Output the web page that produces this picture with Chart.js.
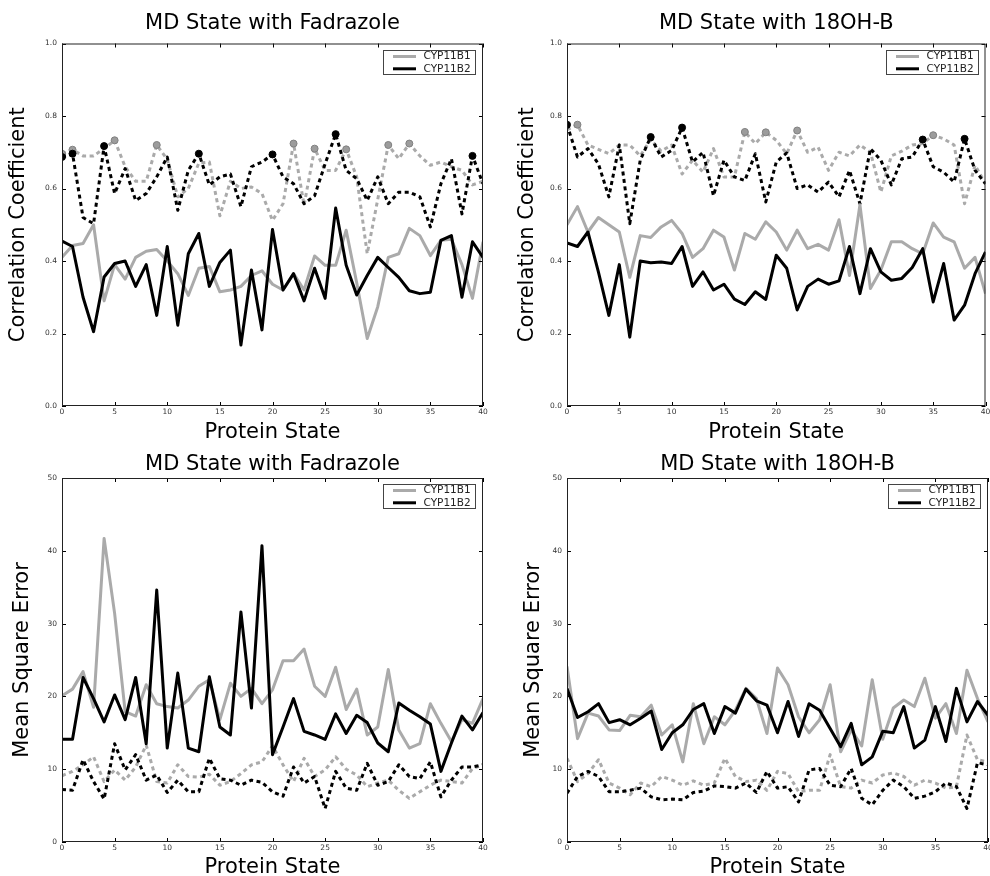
<!DOCTYPE html>
<html>
<head>
<meta charset="utf-8">
<script src="https://cdn.jsdelivr.net/npm/chart.js@4.4.1/dist/chart.umd.min.js"></script>
<style>
  body { margin: 0; background: #fff; width: 990px; height: 876px; position: relative; overflow: hidden; }
  canvas { position: absolute; }
</style>
</head>
<body>
<canvas id="corrFad" width="495" height="446" style="left:0;top:0"></canvas>
<canvas id="corrOH" width="495" height="446" style="left:495px;top:0"></canvas>
<canvas id="mseFad" width="495" height="444" style="left:0;top:432px"></canvas>
<canvas id="mseOH" width="495" height="444" style="left:495px;top:432px"></canvas>
<script>
const states = [0,1,2,3,4,5,6,7,8,9,10,11,12,13,14,15,16,17,18,19,20,
  21,22,23,24,25,26,27,28,29,30,31,32,33,34,35,36,37,38,39,40];
const legendLabels = ['CYP11B1', 'CYP11B2'];

// correlation, MD state with Fadrazole
const corrFadB1 = [0.41,0.443,0.448,0.50,0.29,0.39,0.35,0.41,0.427,0.432,
  0.40,0.365,0.305,0.38,0.385,0.315,0.32,0.33,0.36,0.373,
  0.336,0.32,0.365,0.32,0.414,0.388,0.388,0.485,0.34,0.186,
  0.274,0.41,0.42,0.49,0.47,0.415,0.457,0.46,0.39,0.297,0.453];
const corrFadB2 = [0.455,0.44,0.30,0.205,0.356,0.393,0.40,0.33,0.39,0.25,
  0.44,0.223,0.42,0.476,0.33,0.396,0.43,0.168,0.375,0.21,
  0.487,0.32,0.365,0.29,0.38,0.297,0.546,0.388,0.306,0.36,
  0.41,0.382,0.355,0.318,0.31,0.314,0.457,0.47,0.30,0.453,0.41];
const corrFadB1Dash = [0.696,0.707,0.69,0.69,0.71,0.733,0.66,0.62,0.62,0.72,
  0.68,0.577,0.60,0.67,0.673,0.525,0.62,0.60,0.604,0.586,
  0.512,0.558,0.724,0.554,0.71,0.65,0.65,0.708,0.632,0.42,
  0.57,0.72,0.682,0.724,0.69,0.664,0.673,0.66,0.65,0.61,0.62];
const corrFadB2Dash = [0.687,0.696,0.52,0.503,0.717,0.586,0.655,0.567,0.586,0.632,
  0.687,0.54,0.65,0.696,0.61,0.632,0.64,0.55,0.66,0.673,
  0.694,0.632,0.613,0.558,0.58,0.668,0.75,0.65,0.627,0.567,
  0.632,0.558,0.59,0.59,0.577,0.494,0.613,0.682,0.53,0.69,0.613];
const corrFadB1Marks = [0,1,5,9,22,24,27,31,33];
const corrFadB2Marks = [0,1,4,13,20,26,39];

// correlation, MD state with 18OH-B
const corrOHB1 = [0.50,0.55,0.48,0.52,0.50,0.48,0.355,0.47,0.465,0.494,
  0.512,0.476,0.41,0.434,0.485,0.466,0.375,0.476,0.46,0.508,
  0.48,0.43,0.485,0.434,0.446,0.43,0.514,0.36,0.555,0.324,
  0.375,0.453,0.453,0.434,0.42,0.505,0.466,0.453,0.38,0.41,0.31];
const corrOHB2 = [0.45,0.44,0.48,0.37,0.25,0.39,0.19,0.40,0.395,0.397,
  0.393,0.44,0.33,0.37,0.32,0.336,0.295,0.28,0.315,0.294,
  0.416,0.38,0.265,0.33,0.35,0.336,0.345,0.44,0.31,0.434,
  0.37,0.347,0.352,0.382,0.434,0.287,0.393,0.237,0.278,0.365,0.425];
const corrOHB1Dash = [0.762,0.776,0.72,0.708,0.696,0.72,0.72,0.69,0.735,0.703,
  0.72,0.64,0.678,0.645,0.71,0.632,0.632,0.756,0.724,0.755,
  0.733,0.696,0.76,0.70,0.714,0.65,0.70,0.69,0.72,0.70,
  0.59,0.69,0.703,0.72,0.724,0.747,0.737,0.72,0.558,0.664,0.613];
const corrOHB2Dash = [0.776,0.687,0.71,0.668,0.577,0.72,0.503,0.678,0.742,0.687,
  0.705,0.768,0.673,0.70,0.58,0.678,0.632,0.622,0.696,0.563,
  0.673,0.698,0.60,0.61,0.59,0.618,0.577,0.65,0.558,0.71,
  0.678,0.61,0.682,0.687,0.735,0.66,0.645,0.618,0.737,0.65,0.613];
const corrOHB1Marks = [1,17,19,22,35];
const corrOHB2Marks = [0,8,11,34,38];

// mean square error, MD state with Fadrazole
const mseFadB1 = [20.1,21.0,23.4,18.5,41.7,31.4,17.9,17.3,21.6,19.0,
  18.6,18.4,19.5,21.4,22.3,16.8,21.8,20.0,21.1,19.0,
  20.9,24.9,24.9,26.5,21.4,20.0,24.0,18.2,21.0,14.7,
  15.8,23.7,15.4,12.9,13.5,19.0,16.3,13.8,16.8,16.3,19.7];
const mseFadB2 = [14.1,14.1,22.6,19.7,16.5,20.2,16.8,22.6,13.5,34.6,
  12.9,23.2,12.9,12.4,22.7,15.8,14.7,31.6,18.4,40.7,
  12.0,15.8,19.7,15.2,14.7,14.1,17.6,14.9,17.4,16.4,
  13.6,12.4,19.1,18.1,17.2,16.2,9.7,13.6,17.3,15.4,17.8];
const mseFadB1Dash = [9.1,9.7,10.6,11.7,8.3,9.9,8.5,10.3,13.3,8.3,
  8.1,10.6,9.0,8.9,9.3,7.8,8.3,9.4,10.6,11.0,
  13.2,10.6,8.3,11.5,9.0,9.9,11.7,10.0,9.2,7.6,
  8.1,8.5,7.1,6.0,6.9,7.8,8.5,8.3,8.1,10.1,10.6];
const mseFadB2Dash = [7.2,7.1,11.3,8.3,5.9,13.5,9.9,12.0,8.5,9.2,
  6.8,8.5,6.9,6.9,11.5,8.7,8.5,7.8,8.5,8.2,
  6.9,6.3,10.3,8.1,9.0,4.6,9.7,7.4,7.1,10.8,
  7.8,8.3,10.6,9.0,8.7,11.0,6.2,8.5,10.3,10.3,10.6];

// mean square error, MD state with 18OH-B
const mseOHB1 = [24.1,14.2,17.7,17.3,15.4,15.3,17.4,17.2,18.8,14.7,
  16.1,11.0,19.0,13.5,17.2,16.1,18.1,21.1,19.7,14.9,
  23.9,21.6,17.2,15.0,16.8,21.6,12.4,15.4,13.2,22.3,
  14.1,18.4,19.5,18.6,22.5,17.0,19.0,14.9,23.6,19.7,16.5];
const mseOHB2 = [21.1,17.1,17.9,19.0,16.4,16.8,16.1,17.0,18.0,12.7,
  15.0,16.1,18.2,19.0,14.9,18.6,17.7,21.0,19.4,18.8,
  15.0,19.3,14.5,19.0,18.1,15.6,13.1,16.3,10.6,11.7,
  15.2,15.0,18.6,12.9,14.0,18.6,13.8,21.1,16.5,19.3,17.4];
const mseOHB1Dash = [11.5,8.3,9.4,11.3,8.1,7.4,6.5,8.1,7.6,9.0,
  8.5,7.8,8.4,7.8,8.1,11.5,9.0,8.3,8.5,7.1,
  9.7,9.4,6.9,7.1,7.1,12.0,7.6,7.4,8.5,8.1,
  9.2,9.5,9.0,7.8,8.5,8.1,7.4,7.6,14.7,11.3,11.0];
const mseOHB2Dash = [6.7,9.0,9.7,9.0,6.9,6.9,7.1,7.4,6.2,5.8,
  5.9,5.8,6.8,7.0,7.7,7.6,7.4,8.1,6.8,9.7,
  7.4,7.6,5.5,9.9,10.1,7.8,7.6,10.1,6.0,5.1,
  7.1,8.5,7.6,6.0,6.3,6.9,8.1,7.6,4.6,10.9,10.6];

const GREY = '#aaaaaa';
const FONT = 'DejaVu Sans';

const pts = arr => states.map((s, i) => ({x: s, y: arr[i]}));

// frame, inward ticks and the little legend box, matplotlib style
const axesDecor = {
  id: 'axesDecor',
  afterDatasetsDraw(chart) {
    const {ctx, chartArea: a, scales: {x, y}} = chart;
    ctx.save();
    ctx.strokeStyle = '#000';
    ctx.lineWidth = 1;
    ctx.beginPath();
    x.ticks.forEach(t => {
      const px = Math.round(x.getPixelForValue(t.value)) + 0.5;
      ctx.moveTo(px, a.bottom); ctx.lineTo(px, a.bottom - 4);
      ctx.moveTo(px, a.top); ctx.lineTo(px, a.top + 4);
    });
    y.ticks.forEach(t => {
      const py = Math.round(y.getPixelForValue(t.value)) + 0.5;
      ctx.moveTo(a.left, py); ctx.lineTo(a.left + 4, py);
      ctx.moveTo(a.right, py); ctx.lineTo(a.right - 4, py);
    });
    ctx.stroke();
    ctx.strokeStyle = '#222';
    ctx.strokeRect(a.left + 0.5, a.top + 0.5, a.width - 1, a.height - 1);

    // legend
    const w = 92, h = 24;
    const lx = Math.round(a.right - 8 - w) + 0.5, ly = Math.round(a.top + 6) + 0.5;
    ctx.fillStyle = '#fff';
    ctx.fillRect(lx, ly, w, h);
    ctx.strokeStyle = '#444';
    ctx.strokeRect(lx, ly, w, h);
    const cols = [GREY, '#000'];
    ctx.font = '10.5px "' + FONT + '"';
    ctx.textBaseline = 'middle';
    legendLabels.forEach((lab, i) => {
      const ry = ly + 6 + i * 12.3;
      ctx.strokeStyle = cols[i];
      ctx.lineWidth = 3;
      ctx.beginPath();
      ctx.moveTo(lx + 9.5, ry); ctx.lineTo(lx + 32.5, ry);
      ctx.stroke();
      ctx.fillStyle = '#222';
      ctx.fillText(lab, lx + 40, ry);
    });
    ctx.restore();
  }
};

function makeChart(id, cfg) {
  const markRadius = marks => c => marks.includes(c.dataIndex) ? 3.5 : 0;
  const datasets = [
    {data: pts(cfg.b2), borderColor: '#000', borderWidth: 3, pointRadius: 0},
    {data: pts(cfg.b1), borderColor: GREY, borderWidth: 3, pointRadius: 0},
    {data: pts(cfg.b2d), borderColor: '#000', borderWidth: 3, borderDash: [4, 3.5],
     pointRadius: markRadius(cfg.b2m || []), pointBackgroundColor: '#000', pointBorderColor: '#000', pointBorderWidth: 1},
    {data: pts(cfg.b1d), borderColor: GREY, borderWidth: 3, borderDash: [4, 3.5],
     pointRadius: markRadius(cfg.b1m || []), pointBackgroundColor: '#9c9c9c', pointBorderColor: '#808080', pointBorderWidth: 1}
  ];
  datasets.forEach(d => { d.tension = 0; d.clip = 0; d.borderJoinStyle = 'round'; d.pointHoverRadius = 0; });

  return new Chart(document.getElementById(id), {
    type: 'line',
    data: {datasets},
    plugins: [axesDecor],
    options: {
      responsive: false,
      animation: false,
      events: [],
      layout: {padding: {left: 0, right: cfg.padRight, top: 0, bottom: 0}},
      plugins: {
        legend: {display: false},
        tooltip: {enabled: false},
        title: {
          display: true,
          text: cfg.title,
          fullSize: false,
          color: '#000',
          font: {family: FONT, size: 21, weight: 'normal', lineHeight: 1.2},
          padding: {top: cfg.titleTop, bottom: cfg.titleBottom}
        }
      },
      scales: {
        x: {
          type: 'linear',
          min: 0, max: 40,
          grid: {display: false, drawTicks: false},
          border: {display: false},
          ticks: {stepSize: 5, maxRotation: 0, autoSkip: false, padding: 2,
                  color: '#333', font: {family: FONT, size: 7.5}},
          title: {display: true, text: 'Protein State', color: '#000',
                  font: {family: FONT, size: 21, lineHeight: 1}, padding: {top: 0, bottom: cfg.xTitlePad}},
          afterFit(s) { s.height = cfg.xHeight; s.paddingLeft = 0; s.paddingRight = 0; }
        },
        y: {
          min: 0, max: cfg.ymax,
          grid: {display: false, drawTicks: false},
          border: {display: false},
          ticks: {stepSize: cfg.ystep, padding: 5, color: '#333', font: {family: FONT, size: 7.5},
                  callback: cfg.yfmt},
          title: {display: true, text: cfg.yTitle, color: '#000',
                  font: {family: FONT, size: 21, lineHeight: 1}, padding: {top: cfg.yTitlePad, bottom: 0}},
          afterFit(s) { s.width = cfg.yWidth; s.paddingTop = 0; s.paddingBottom = 0; }
        }
      }
    }
  });
}

const corrFmt = v => v.toFixed(1);
const mseFmt = v => String(Math.round(v));

makeChart('corrFad', {
  title: 'MD State with Fadrazole', yTitle: 'Correlation Coefficient',
  ymax: 1, ystep: 0.2, yfmt: corrFmt,
  b1: corrFadB1, b2: corrFadB2, b1d: corrFadB1Dash, b2d: corrFadB2Dash,
  b1m: corrFadB1Marks, b2m: corrFadB2Marks,
  yWidth: 62, xHeight: 40, padRight: 12,
  titleTop: 10.5, titleBottom: 7.8, yTitlePad: 8, xTitlePad: 2.5
});
makeChart('corrOH', {
  title: 'MD State with 18OH-B', yTitle: 'Correlation Coefficient',
  ymax: 1, ystep: 0.2, yfmt: corrFmt,
  b1: corrOHB1, b2: corrOHB2, b1d: corrOHB1Dash, b2d: corrOHB2Dash,
  b1m: corrOHB1Marks, b2m: corrOHB2Marks,
  yWidth: 72, xHeight: 40, padRight: 2,
  titleTop: 10.5, titleBottom: 7.8, yTitlePad: 22, xTitlePad: 2.5
});
makeChart('mseFad', {
  title: 'MD State with Fadrazole', yTitle: 'Mean Square Error',
  ymax: 50, ystep: 10, yfmt: mseFmt,
  b1: mseFadB1, b2: mseFadB2, b1d: mseFadB1Dash, b2d: mseFadB2Dash,
  yWidth: 62, xHeight: 34, padRight: 12,
  titleTop: 20.4, titleBottom: 0.4, yTitlePad: 12.5, xTitlePad: -2.5
});
makeChart('mseOH', {
  title: 'MD State with 18OH-B', yTitle: 'Mean Square Error',
  ymax: 50, ystep: 10, yfmt: mseFmt,
  b1: mseOHB1, b2: mseOHB2, b1d: mseOHB1Dash, b2d: mseOHB2Dash,
  yWidth: 72, xHeight: 34, padRight: 2,
  titleTop: 20.4, titleBottom: 0.4, yTitlePad: 28.5, xTitlePad: -2.5
});
</script>
</body>
</html>
